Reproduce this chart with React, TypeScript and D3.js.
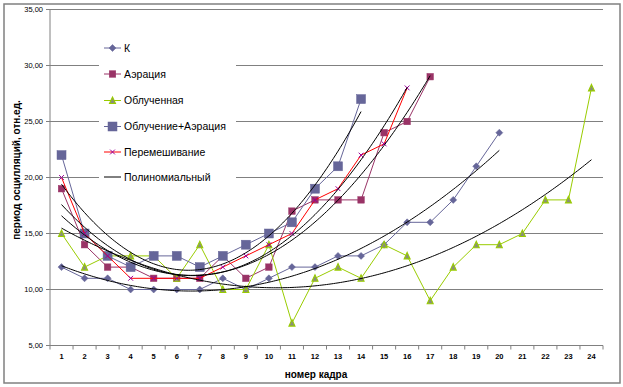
import React from "react";
import * as d3 from "d3";

const categories = ["1","2","3","4","5","6","7","8","9","10","11","12","13","14","15","16","17","18","19","20","21","22","23","24"];
const yTicks = [5, 10, 15, 20, 25, 30, 35];

const seriesK = [12,11,11,10,10,10,10,11,10,11,12,12,13,13,14,16,16,18,21,24];
const seriesAeration = [19,14,12,12,11,11,11,13,11,12,17,18,18,18,24,25,29];
const seriesIrradiated = [15,12,13,13,13,11,14,10,10,14,7,11,12,11,14,13,9,12,14,14,15,18,18,28];
const seriesIrrAer = [22,15,13,12,13,13,12,13,14,15,16,19,21,27];
const seriesMixing = [20,15,13,11,11,11,11,12,13,14,15,18,19,22,23,28];

const seriesNames = ["К", "Аэрация", "Облученная", "Облучение+Аэрация", "Перемешивание"];
const trendName = "Полиномиальный";

type Style = { line: string; marker: string; fill: string; stroke: string; size: number };
const styles: Style[] = [
  { line: "#666699", marker: "diamond", fill: "#666699", stroke: "#666699", size: 6 },
  { line: "#993366", marker: "square", fill: "#993366", stroke: "#993366", size: 6.5 },
  { line: "#99CC00", marker: "triangle", fill: "#8a8f78", stroke: "#99CC00", size: 6 },
  { line: "#666699", marker: "square", fill: "#666699", stroke: "#666699", size: 9 },
  { line: "#FF0000", marker: "x", fill: "none", stroke: "#990099", size: 6 },
];

function polyFit2(vals: number[]): [number, number, number] {
  let s0 = 0, s1 = 0, s2 = 0, s3 = 0, s4 = 0, t0 = 0, t1 = 0, t2 = 0;
  vals.forEach((v, i) => {
    const x = i + 1;
    s0 += 1; s1 += x; s2 += x * x; s3 += x ** 3; s4 += x ** 4;
    t0 += v; t1 += v * x; t2 += v * x * x;
  });
  const M = [
    [s0, s1, s2, t0],
    [s1, s2, s3, t1],
    [s2, s3, s4, t2],
  ];
  for (let c = 0; c < 3; c++) {
    let p = c;
    for (let r = c + 1; r < 3; r++) if (Math.abs(M[r][c]) > Math.abs(M[p][c])) p = r;
    [M[c], M[p]] = [M[p], M[c]];
    for (let r = 0; r < 3; r++) {
      if (r === c) continue;
      const f = M[r][c] / M[c][c];
      for (let k = c; k < 4; k++) M[r][k] -= f * M[c][k];
    }
  }
  return [M[0][3] / M[0][0], M[1][3] / M[1][1], M[2][3] / M[2][2]];
}

function Marker({ type, x, y, s, fill, stroke }: { type: string; x: number; y: number; s: number; fill: string; stroke: string }) {
  const h = s / 2;
  if (type === "diamond") {
    return <path d={`M${x},${y - h - 0.5}L${x + h + 0.5},${y}L${x},${y + h + 0.5}L${x - h - 0.5},${y}Z`} fill={fill} stroke={stroke} strokeWidth={0.5} />;
  }
  if (type === "square") {
    return <rect x={x - h} y={y - h} width={s} height={s} fill={fill} stroke={stroke} strokeWidth={0.5} />;
  }
  if (type === "triangle") {
    return <path d={`M${x},${y - h - 0.5}L${x + h},${y + h}L${x - h},${y + h}Z`} fill={fill} stroke={stroke} strokeWidth={1.1} />;
  }
  return (
    <path d={`M${x - h * 0.8},${y - h * 0.8}L${x + h * 0.8},${y + h * 0.8}M${x - h * 0.8},${y + h * 0.8}L${x + h * 0.8},${y - h * 0.8}`} stroke={stroke} strokeWidth={1} fill="none" />
  );
}

export default function App() {
  const W = 623, H = 387;
  const left = 50, right = 603, top = 9.5, bottom = 345.5;
  const x = d3.scaleLinear().domain([0.5, categories.length + 0.5]).range([left, right]);
  const y = d3.scaleLinear().domain([5, 35]).range([bottom, top]);
  const allSeries = [seriesK, seriesAeration, seriesIrradiated, seriesIrrAer, seriesMixing];
  const lineGen = d3.line<number>().x((_, i) => x(i + 1)).y((v) => y(v));
  const font = "'Liberation Sans', Arial, sans-serif";

  const legendX = 104, legendTextX = 124;
  const legendY = [48, 74, 100.5, 126.5, 152, 177];

  const trendPaths = allSeries.map((vals) => {
    const [a, b, c] = polyFit2(vals);
    const pts: [number, number][] = d3.range(1, vals.length + 0.001, 0.1).map((t) => [x(t), y(a + b * t + c * t * t)]);
    return d3.line()(pts) || "";
  });

  return (
    <svg width={W} height={H} style={{ position: "absolute", left: 0, top: 0, background: "#fff" }}>
      <rect x={0} y={0} width={W} height={H} fill="#fff" />
      <rect x={4} y={4} width={616} height={379} fill="none" stroke="#808080" strokeWidth={1.5} />
      {yTicks.map((t) => (
        <line key={"g" + t} x1={left} x2={right} y1={y(t)} y2={y(t)} stroke="#808080" strokeWidth={1} />
      ))}
      <line x1={left} x2={left} y1={top} y2={bottom} stroke="#808080" strokeWidth={1} />
      <line x1={left} x2={right} y1={bottom} y2={bottom} stroke="#808080" strokeWidth={1} />
      {yTicks.map((t) => (
        <g key={"yt" + t}>
          <line x1={left - 4} x2={left} y1={y(t)} y2={y(t)} stroke="#808080" />
          <text x={43} y={y(t) + 2.5} textAnchor="end" fontSize={7.5} fontFamily={font} fill="#000">
            {d3.format(".2f")(t).replace(".", ",")}
          </text>
        </g>
      ))}
      {d3.range(0, categories.length + 1).map((k) => (
        <line key={"xt" + k} x1={x(k + 0.5)} x2={x(k + 0.5)} y1={bottom} y2={bottom + 4} stroke="#808080" />
      ))}
      {categories.map((c, i) => (
        <text key={"xl" + c} x={x(i + 1)} y={359} textAnchor="middle" fontSize={7.5} fontWeight="bold" fontFamily={font} fill="#000">
          {c}
        </text>
      ))}
      <text x={316} y={378} textAnchor="middle" fontSize={10} fontWeight="bold" fontFamily={font}>
        номер кадра
      </text>
      <text transform="translate(20,170) rotate(-90)" textAnchor="middle" fontSize={10} fontWeight="bold" fontFamily={font}>
        период осцилляций, отн.ед.
      </text>
      {allSeries.map((vals, si) => (
        <g key={"s" + si}>
          <path d={lineGen(vals) || ""} fill="none" stroke={styles[si].line} strokeWidth={1} />
          {vals.map((v, i) => (
            <Marker key={i} type={styles[si].marker} x={x(i + 1)} y={y(v)} s={styles[si].size} fill={styles[si].fill} stroke={styles[si].stroke} />
          ))}
        </g>
      ))}
      {trendPaths.map((p, i) => (
        <path key={"t" + i} d={p} fill="none" stroke="#000" strokeWidth={1} />
      ))}
      <rect x={99} y={36} width={137} height={150} fill="#fff" />
      {seriesNames.map((n, i) => (
        <g key={"l" + i}>
          <line x1={legendX} x2={legendX + 17} y1={legendY[i]} y2={legendY[i]} stroke={styles[i].line} strokeWidth={1} />
          <Marker type={styles[i].marker} x={legendX + 8.5} y={legendY[i]} s={styles[i].size} fill={styles[i].fill} stroke={styles[i].stroke} />
          <text x={legendTextX} y={legendY[i] + 3.5} fontSize={10.5} fontFamily={font}>{n}</text>
        </g>
      ))}
      <line x1={legendX} x2={legendX + 17} y1={legendY[5]} y2={legendY[5]} stroke="#000" strokeWidth={1} />
      <text x={legendTextX} y={legendY[5] + 3.5} fontSize={10.5} fontFamily={font}>{trendName}</text>
    </svg>
  );
}
